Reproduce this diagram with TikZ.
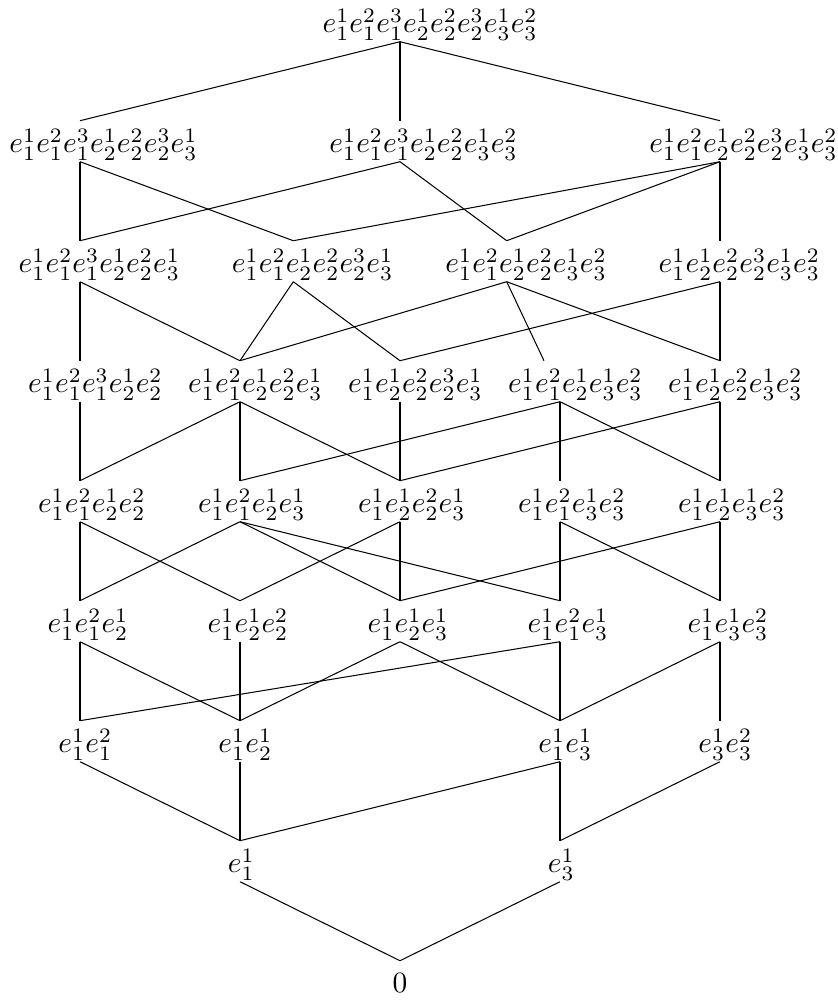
\documentclass[tikz,border=0pt]{standalone}
\usetikzlibrary{calc}
\newcommand{\lab}[2]{\sbox0{$#2$}\makebox[0pt][l]{\hspace{-#1\wd0}\copy0}}
\begin{document}
\begin{tikzpicture}[x=0.34pt,y=-0.34pt,
  elem/.style={anchor=south, inner sep=0pt, outer sep=0pt, minimum size=0pt,
    text height=10.94pt, text depth=3pt},
  link/.style={line width=0.35pt}]
\useasboundingbox (0,0) rectangle (838,1000);
% row 0
\node[elem] (T) at (400,41.7) {\lab{0.36}{e_1^1e_1^2e_1^3e_2^1e_2^2e_2^3e_3^1e_3^2}};
% row 1
\node[elem] (A1) at (80,161.7) {\lab{0.375}{e_1^1e_1^2e_1^3e_2^1e_2^2e_2^3e_3^1}};
\node[elem] (A2) at (400,161.7) {\lab{0.375}{e_1^1e_1^2e_1^3e_2^1e_2^2e_3^1e_3^2}};
\node[elem] (A3) at (720,161.7) {\lab{0.375}{e_1^1e_1^2e_2^1e_2^2e_2^3e_3^1e_3^2}};
% row 2
\node[elem] (B1) at (80,281.7) {\lab{0.38}{e_1^1e_1^2e_1^3e_2^1e_2^2e_3^1}};
\node[elem] (B2) at (293.3,281.7) {\lab{0.38}{e_1^1e_1^2e_2^1e_2^2e_2^3e_3^1}};
\node[elem] (B3) at (506.7,281.7) {\lab{0.38}{e_1^1e_1^2e_2^1e_2^2e_3^1e_3^2}};
\node[elem] (B4) at (720,281.7) {\lab{0.38}{e_1^1e_2^1e_2^2e_2^3e_3^1e_3^2}};
% row 3
\node[elem] (C1) at (80,401.7) {\lab{0.385}{e_1^1e_1^2e_1^3e_2^1e_2^2}};
\node[elem] (C2) at (240,401.7) {\lab{0.385}{e_1^1e_1^2e_2^1e_2^2e_3^1}};
\node[elem] (C3) at (400,401.7) {\lab{0.385}{e_1^1e_2^1e_2^2e_2^3e_3^1}};
\node[elem] (C4) at (560,401.7) {\lab{0.385}{e_1^1e_1^2e_2^1e_3^1e_3^2}};
\node[elem] (C5) at (720,401.7) {\lab{0.385}{e_1^1e_2^1e_2^2e_3^1e_3^2}};
% row 4
\node[elem] (D1) at (80,521.7) {\lab{0.39}{e_1^1e_1^2e_2^1e_2^2}};
\node[elem] (D2) at (240,521.7) {\lab{0.39}{e_1^1e_1^2e_2^1e_3^1}};
\node[elem] (D3) at (400,521.7) {\lab{0.39}{e_1^1e_2^1e_2^2e_3^1}};
\node[elem] (D4) at (560,521.7) {\lab{0.39}{e_1^1e_1^2e_3^1e_3^2}};
\node[elem] (D5) at (720,521.7) {\lab{0.39}{e_1^1e_2^1e_3^1e_3^2}};
% row 5
\node[elem] (E1) at (80,641.7) {\lab{0.4}{e_1^1e_1^2e_2^1}};
\node[elem] (E2) at (240,641.7) {\lab{0.4}{e_1^1e_2^1e_2^2}};
\node[elem] (E3) at (400,641.7) {\lab{0.4}{e_1^1e_2^1e_3^1}};
\node[elem] (E4) at (560,641.7) {\lab{0.4}{e_1^1e_1^2e_3^1}};
\node[elem] (E5) at (720,641.7) {\lab{0.4}{e_1^1e_3^1e_3^2}};
% row 6
\node[elem] (F1) at (80,761.7) {\lab{0.4}{e_1^1e_1^2}};
\node[elem] (F2) at (240,761.7) {\lab{0.4}{e_1^1e_2^1}};
\node[elem] (F3) at (560,761.7) {\lab{0.4}{e_1^1e_3^1}};
\node[elem] (F4) at (720,761.7) {\lab{0.4}{e_3^1e_3^2}};
% row 7
\node[elem] (G1) at (240,881.7) {\lab{0.45}{e_1^1}};
\node[elem] (G2) at (560,881.7) {\lab{0.45}{e_3^1}};
% row 8
\node[elem] (Z) at (400,1001.7) {\lab{0.5}{0}};
% connectors
\foreach \a/\b in {T/A1,T/A2,T/A3,
  A1/B1,A1/B2,A2/B1,A2/B3,A3/B2,A3/B3,A3/B4,
  B1/C1,B1/C2,B2/C2,B2/C3,B3/C2,B3/C5,B4/C3,B4/C5,
  C1/D1,C2/D1,C2/D2,C2/D3,C3/D3,C4/D2,C4/D4,C4/D5,C5/D3,C5/D5,
  D1/E1,D1/E2,D2/E1,D2/E3,D2/E4,D3/E2,D3/E3,D4/E4,D4/E5,D5/E3,D5/E5,
  E1/F1,E1/F2,E2/F2,E3/F2,E3/F3,E4/F1,E4/F3,E5/F3,E5/F4,
  F1/G1,F2/G1,F3/G1,F3/G2,F4/G2,
  G1/Z,G2/Z}
  \draw[link] (\a.south) -- (\b.north);
\draw[link] (B3.south) -- ($(C4.north)+(-16,0)$);
\end{tikzpicture}
\end{document}
